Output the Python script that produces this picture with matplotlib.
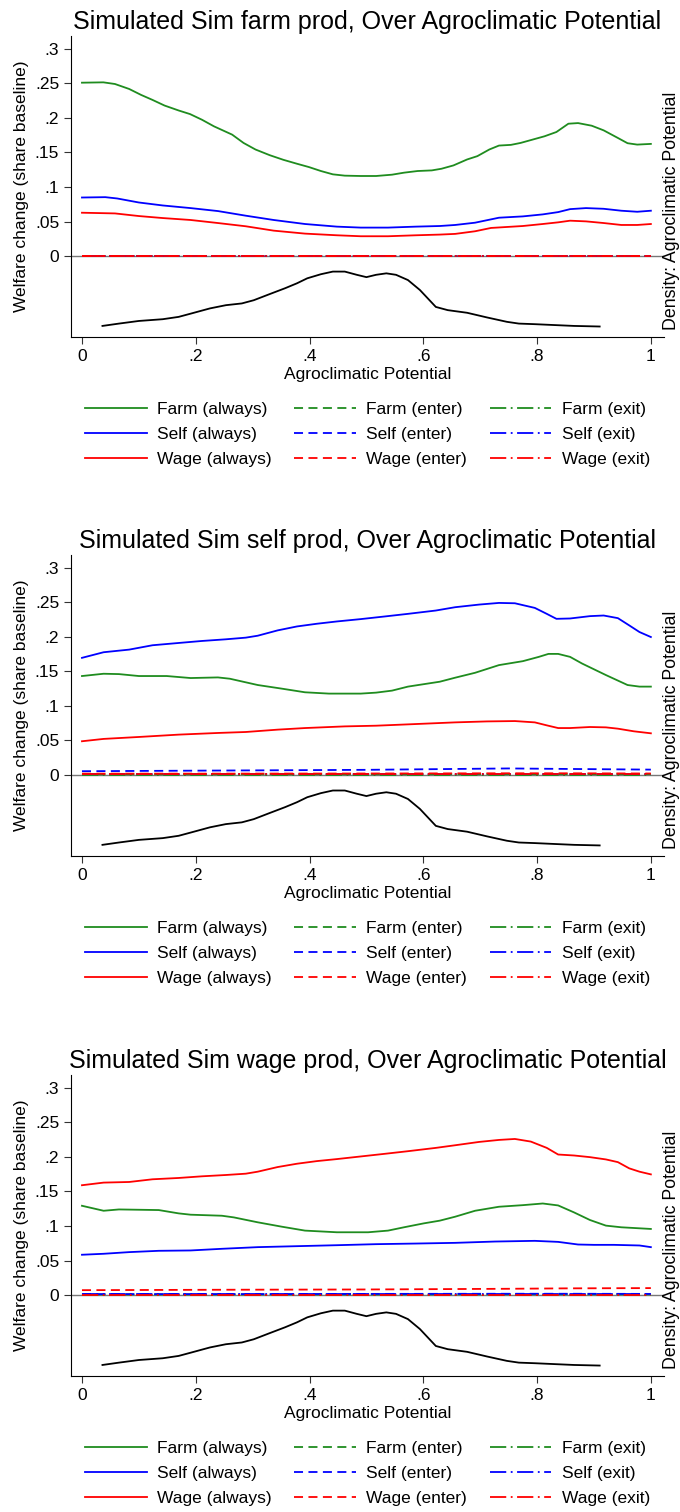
import numpy as np
import matplotlib
matplotlib.use("Agg")
import matplotlib.pyplot as plt

plt.rcParams['font.family'] = ['Liberation Sans', 'DejaVu Sans']

# ---- data ----
titles = ["Simulated Sim farm prod, Over Agroclimatic Potential",
          "Simulated Sim self prod, Over Agroclimatic Potential",
          "Simulated Sim wage prod, Over Agroclimatic Potential"]

# density of agroclimatic potential (same in every panel)
dens_x = [0.036, 0.065, 0.100, 0.142, 0.170, 0.191, 0.225, 0.253, 0.281, 0.302,
          0.330, 0.357, 0.378, 0.396, 0.420, 0.441, 0.462, 0.483, 0.500, 0.517,
          0.535, 0.552, 0.573, 0.594, 0.622, 0.643, 0.677, 0.712, 0.747, 0.768,
          0.796, 0.830, 0.865, 0.910]
dens_y = [0.38, 0.46, 0.55, 0.61, 0.69, 0.80, 0.98, 1.09, 1.15, 1.26,
          1.47, 1.67, 1.84, 2.01, 2.15, 2.24, 2.24, 2.13, 2.05, 2.13,
          2.18, 2.13, 1.95, 1.61, 1.03, 0.92, 0.83, 0.67, 0.52, 0.46,
          0.44, 0.41, 0.38, 0.36]

# panel 1: farm productivity
p1_farm_x = [0, .0376, .058, .083, .104, .124, .145, .170, .190, .211, .232, .264, .284,
             .305, .330, .354, .378, .399, .420, .441, .462, .490, .517, .545, .566, .590,
             .615, .632, .653, .677, .695, .716, .733, .754, .771, .792, .813, .834, .855,
             .872, .896, .917, .942, .959, .976, 1.0]
p1_farm_y = [.2507, .2512, .2488, .2416, .233, .2258, .2177, .2105, .2053, .1971, .1876,
             .1756, .1636, .1541, .1459, .1392, .1335, .1287, .123, .1182, .1163, .1158,
             .1158, .1177, .1206, .123, .1239, .1263, .1311, .1397, .1445, .1541, .1598,
             .1608, .1636, .1684, .1732, .1794, .1914, .1923, .1885, .1818, .1708, .1632,
             .1612, .1622]
p1_self_x = [0, .041, .062, .100, .142, .191, .239, .288, .337, .392, .448, .490, .538,
             .587, .629, .656, .691, .733, .775, .810, .837, .858, .886, .917, .948, .976, 1]
p1_self_y = [.0847, .0852, .0833, .0775, .0732, .0694, .0651, .0584, .0522, .0464, .0426,
             .0412, .0412, .0426, .0435, .0450, .0483, .0555, .0574, .0603, .0636, .0679,
             .0694, .0684, .0656, .0641, .0656]
p1_wage_x = [0, .058, .100, .142, .191, .239, .288, .337, .392, .448, .490, .538, .587,
             .629, .656, .691, .719, .775, .810, .837, .858, .886, .917, .948, .976, 1]
p1_wage_y = [.0627, .0617, .0579, .055, .0522, .0478, .0431, .0368, .0325, .0301, .0287,
             .0287, .0301, .0311, .0321, .0359, .0407, .0435, .0464, .0488, .0512, .0502,
             .0478, .0450, .045, .0464]

# panel 2: self-employment productivity
p2_farm_x = [0, .038, .065, .100, .149, .191, .239, .260, .309, .351, .392, .434, .490,
             .517, .545, .573, .629, .656, .691, .733, .775, .803, .820, .837, .858, .879,
             .921, .959, .980, 1]
p2_farm_y = [.1431, .1464, .1459, .1431, .1431, .1402, .1411, .1392, .1301, .1249, .1196,
             .1177, .1177, .1191, .122, .1278, .1349, .1407, .1478, .1589, .1646, .1708,
             .1751, .1751, .1708, .1612, .1445, .1301, .1278, .1278]
p2_self_x = [0, .038, .083, .124, .170, .211, .253, .288, .309, .344, .378, .413, .448,
             .490, .532, .573, .622, .656, .698, .733, .761, .796, .817, .834, .858, .893,
             .917, .942, .962, .980, 1]
p2_self_y = [.1694, .1775, .1813, .1876, .1909, .1938, .1962, .1986, .2014, .2091, .2148,
             .2187, .222, .2254, .2292, .233, .2378, .2426, .2464, .2488, .2483, .2416,
             .233, .2258, .2263, .2297, .2306, .2268, .2163, .2067, .1995]
p2_wage_x = [0, .038, .100, .170, .239, .288, .344, .392, .462, .517, .587, .656, .712,
             .761, .796, .817, .837, .858, .893, .921, .942, .970, 1]
p2_wage_y = [.0488, .0522, .055, .0584, .0608, .0622, .0656, .0679, .0703, .0713, .0737,
             .0761, .0775, .078, .0761, .0718, .0679, .0679, .0694, .0689, .067, .0632, .0603]

# panel 3: wage productivity
p3_farm_x = [0, .038, .065, .135, .170, .191, .246, .267, .309, .351, .392, .448, .503,
             .538, .566, .601, .629, .656, .691, .733, .775, .810, .837, .865, .893, .921,
             .948, 1]
p3_farm_y = [.1292, .122, .1239, .123, .1182, .1163, .1148, .1124, .1053, .099, .0933,
             .0909, .0909, .0933, .0981, .1038, .1077, .1134, .122, .1278, .1301, .1325,
             .1297, .1196, .1086, .1005, .0981, .0957]
p3_self_x = [0, .038, .083, .135, .191, .246, .309, .378, .448, .517, .587, .656, .726,
             .796, .837, .872, .900, .935, .980, 1]
p3_self_y = [.0584, .0598, .0622, .0641, .0646, .067, .0694, .0708, .0722, .0737, .0746,
             .0756, .0775, .0785, .077, .0732, .0727, .0727, .0718, .0694]
p3_wage_x = [0, .038, .083, .124, .170, .211, .253, .288, .309, .344, .378, .413, .448,
             .490, .532, .573, .622, .656, .698, .733, .761, .789, .817, .837, .865, .893,
             .921, .942, .962, .980, 1]
p3_wage_y = [.1589, .1627, .1636, .1675, .1694, .1718, .1737, .1756, .1785, .1852, .19,
             .1938, .1967, .2005, .2043, .2081, .2129, .2167, .2215, .2244, .2258, .222,
             .2129, .2033, .2019, .1995, .1962, .1923, .1833, .1785, .1746]

# entrants / exiters, all close to zero
small_x = [0, .25, .5, .75, .85, 1]
p1_enter = {"Farm": [.0005] * 6, "Self": [.0005] * 6, "Wage": [.0008] * 6}
p1_exit = {"Farm": [0] * 6, "Self": [0] * 6, "Wage": [0] * 6}
p2_enter = {"Farm": [.001, .001, .001, .0012, .0012, .0012],
            "Self": [.0055, .0065, .0075, .0095, .0088, .0078],
            "Wage": [.002, .002, .0022, .0025, .0025, .0022]}
p2_exit = {"Farm": [.0005] * 6, "Self": [.0008] * 6, "Wage": [.001] * 6}
p3_enter = {"Farm": [.001, .001, .001, .0012, .0012, .0012],
            "Self": [.0015, .0015, .0018, .002, .002, .0018],
            "Wage": [.0072, .0078, .0082, .0092, .0098, .0102]}
p3_exit = {"Farm": [.0005] * 6, "Self": [.0012] * 6, "Wage": [.0005] * 6}

panels = [
    (titles[0], {"Farm": (p1_farm_x, p1_farm_y), "Self": (p1_self_x, p1_self_y),
                 "Wage": (p1_wage_x, p1_wage_y)}, p1_enter, p1_exit),
    (titles[1], {"Farm": (p2_farm_x, p2_farm_y), "Self": (p2_self_x, p2_self_y),
                 "Wage": (p2_wage_x, p2_wage_y)}, p2_enter, p2_exit),
    (titles[2], {"Farm": (p3_farm_x, p3_farm_y), "Self": (p3_self_x, p3_self_y),
                 "Wage": (p3_wage_x, p3_wage_y)}, p3_enter, p3_exit),
]

colors = {"Farm": "#1f8c1f", "Self": "#0000ff", "Wage": "#ff0000"}
groups = ["Farm", "Self", "Wage"]

fig = plt.figure(figsize=(6.8, 15.12), dpi=100)

bottoms = [0.7771, 0.4339, 0.0899]
for (title, always, enter, exit_), bot in zip(panels, bottoms):
    ax = fig.add_axes([0.1044, bot, 0.872, 0.199])
    ax.axhline(0, color="#777777", lw=1, zorder=1)
    handles = []
    for g in groups:
        c = colors[g]
        h1, = ax.plot(always[g][0], always[g][1], color=c, lw=1.3,
                      label=f"{g} (always)")
        h2, = ax.plot(small_x, enter[g], color=c, lw=1.3, ls=(0, (5, 3)),
                      label=f"{g} (enter)")
        h3, = ax.plot(small_x, exit_[g], color=c, lw=1.3, ls=(0, (9, 2.5, 1, 2.5)),
                      label=f"{g} (exit)")
        handles += [h1, h2, h3]

    ax.set_xlim(-0.0193, 1.023)
    ax.set_ylim(-0.117, 0.318)
    ax.set_yticks([0, .05, .1, .15, .2, .25, .3])
    ax.set_yticklabels(["0", ".05", ".1", ".15", ".2", ".25", ".3"])
    ax.set_xticks([0, .2, .4, .6, .8, 1])
    ax.set_xticklabels(["0", ".2", ".4", ".6", ".8", "1"])
    ax.tick_params(labelsize=12.5, length=5, color="#333333")
    ax.spines["top"].set_visible(False)
    ax.spines["right"].set_visible(False)
    ax.set_ylabel("Welfare change (share baseline)", fontsize=12.5, labelpad=4)
    ax.set_xlabel("Agroclimatic Potential", fontsize=12.5, labelpad=2)
    ax.set_title(title, fontsize=18, pad=5)

    ax2 = ax.twinx()
    ax2.plot(dens_x, dens_y, color="black", lw=1.3)
    ax2.set_ylim(0.0, 10.3)
    ax2.set_yticks([])
    for s in ax2.spines.values():
        s.set_visible(False)
    ax2.set_ylabel("Density: Agroclimatic Potential", fontsize=12.8)
    ax2.yaxis.set_label_coords(0.998, 0.42)

    # legend: Stata fills row-wise, matplotlib column-wise
    order = [0, 3, 6, 1, 4, 7, 2, 5, 8]
    ax.legend([handles[i] for i in order], [handles[i].get_label() for i in order],
              ncol=3, loc="upper center", bbox_to_anchor=(0.5, -0.165),
              frameon=False, fontsize=12.5, handlelength=3.55, handletextpad=0.6,
              columnspacing=1.3, labelspacing=0.56)

fig.savefig("out.png", dpi=100)
